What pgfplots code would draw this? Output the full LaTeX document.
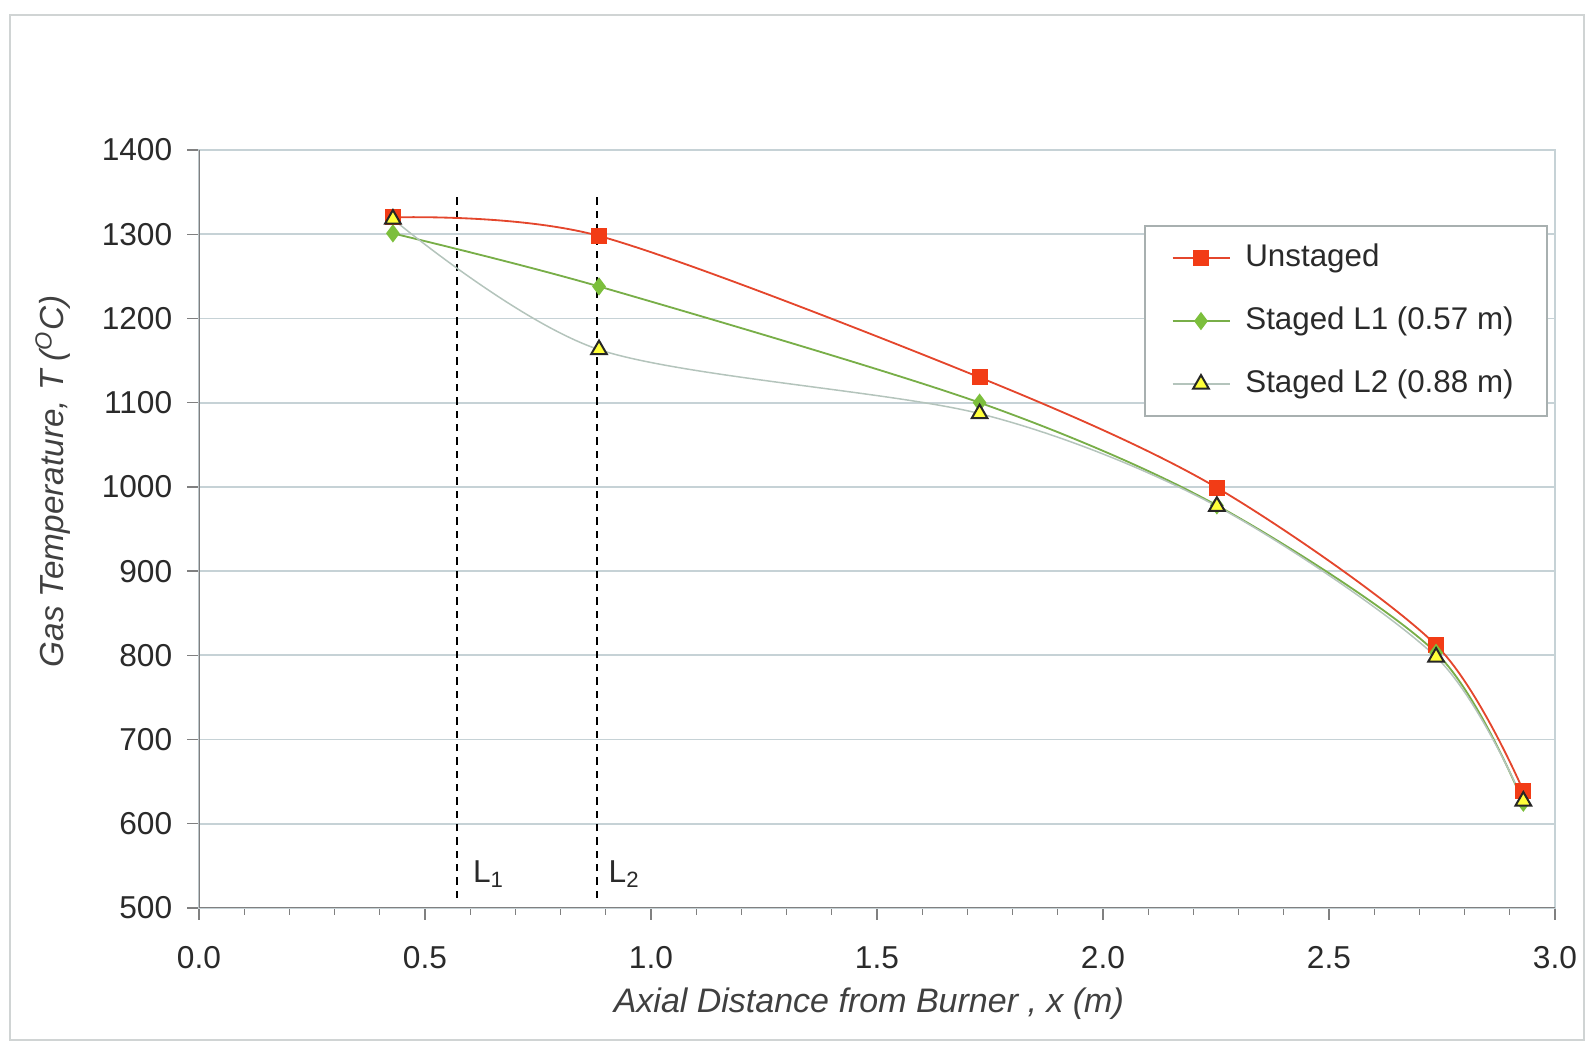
\documentclass[border=0pt]{standalone}
\usepackage{fontspec}
\setmainfont{Liberation Sans}
\usepackage{pgfplots}
\pgfplotsset{compat=1.18}
\definecolor{redl}{HTML}{E4462C}
\definecolor{redm}{HTML}{F23C16}
\definecolor{greenl}{HTML}{78AE48}
\definecolor{greenm}{HTML}{7CBF3C}
\definecolor{grayl}{HTML}{B4C4BC}
\definecolor{yellowm}{HTML}{FFFF3A}
\definecolor{gridc}{HTML}{C6D2D6}
\definecolor{framec}{HTML}{D0D4D4}
\definecolor{axisc}{HTML}{808080}
\definecolor{legc}{HTML}{A8B0B0}
\definecolor{textc}{HTML}{2A2A2A}
\definecolor{labc}{HTML}{404040}

\pgfplotstableread{
x y
0.429 1320
0.885 1298
1.727 1130
2.252 999
2.737 812
2.930 639
}\unstaged
\pgfplotstableread{
x y
0.429 1301
0.885 1238
1.727 1100
2.252 978
2.737 803
2.930 625
}\stagedA
\pgfplotstableread{
x y
0.429 1318
0.885 1163
1.727 1087
2.252 977
2.737 798
2.930 627
}\stagedB

\begin{document}
\begin{tikzpicture}[x=0.3pt,y=0.3pt]
\useasboundingbox (0,0) rectangle (1588,1043);
\draw[color=framec, line width=0.6pt] (10,3) rectangle (1584,1028);
\begin{axis}[
  at={(59.7pt,40.5pt)}, anchor=south west,
  scale only axis, width=406.8pt, height=227.4pt,
  xmin=0, xmax=3, ymin=500, ymax=1400,
  xtick={0,0.5,1,1.5,2,2.5,3}, minor x tick num=4,
  ytick={500,600,...,1400},
  ymajorgrids,
  grid style={color=gridc, line width=0.5pt},
  axis line style={color=gridc, line width=0.5pt},
  xtick pos=bottom, ytick pos=left,
  tick align=outside,
  major tick length=3.5pt, minor tick length=2pt,
  tick style={color=axisc, line width=0.4pt},
  /pgf/number format/assume math mode=true,
  tick label style={font=\fontsize{9.5}{11}\selectfont, color=textc},
  xticklabel style={/pgf/number format/fixed, /pgf/number format/fixed zerofill, /pgf/number format/precision=1, yshift=-4.5pt},
  yticklabel style={/pgf/number format/1000 sep={}, xshift=-1pt},
  scaled y ticks=false,
  xlabel={\itshape Axial Distance from Burner , x (m)},
  ylabel={\itshape Gas Temperature, T (\textsuperscript{O}C)},
  xlabel style={at={(rel axis cs:0.494,-0.126)}, anchor=center, font=\fontsize{10.2}{12}\selectfont, color=labc},
  ylabel style={at={(rel axis cs:-0.1077,0.563)}, anchor=center, font=\fontsize{10}{12}\selectfont, color=labc},
  legend cell align=left,
  legend style={at={(rel axis cs:0.697,0.901)}, anchor=north west, draw=legc, line width=0.5pt, fill=white,
    font=\fontsize{9.4}{11}\selectfont, text=textc, row sep=5.6pt, column sep=2.5pt, inner xsep=8pt, inner ysep=3pt,
    nodes={inner sep=2pt, text height=7.2pt, text depth=2.1pt}},
]
\addplot[black, line width=0.6pt, dash pattern=on 2.2pt off 1.8pt, forget plot] coordinates {(0.57,512) (0.57,1347)};
\addplot[black, line width=0.6pt, dash pattern=on 2.2pt off 1.8pt, forget plot] coordinates {(0.88,512) (0.88,1347)};
\addplot[color=redl, line width=0.55pt, smooth, tension=0.5, mark=square*, mark size=2.1pt,
  mark options={fill=redm, draw=redm, solid}] table[x=x,y=y] {\unstaged};
\addlegendentry{Unstaged}
\addplot[color=greenl, line width=0.55pt, smooth, tension=0.5, mark=diamond*, mark size=2.3pt,
  mark options={fill=greenm, draw=greenm, solid}] table[x=x,y=y] {\stagedA};
\addlegendentry{Staged L1 (0.57 m)}
\addplot[color=grayl, line width=0.45pt, smooth, tension=0.5, mark=triangle*, mark size=2.7pt,
  mark options={fill=yellowm, draw=black!85, line width=0.6pt, solid}] table[x=x,y=y] {\stagedB};
\addlegendentry{Staged L2 (0.88 m)}
\draw[color=axisc, line width=0.5pt] (rel axis cs:0,0) -- (rel axis cs:0,1);
\draw[color=axisc, line width=0.5pt] (rel axis cs:0,0) -- (rel axis cs:1,0);
\node[anchor=base west, inner sep=0pt, font=\fontsize{9.5}{11}\selectfont, text=textc] at (axis cs:0.605,530) {L\textsubscript{1}};
\node[anchor=base west, inner sep=0pt, font=\fontsize{9.5}{11}\selectfont, text=textc] at (axis cs:0.905,530) {L\textsubscript{2}};
\end{axis}
\end{tikzpicture}
\end{document}
